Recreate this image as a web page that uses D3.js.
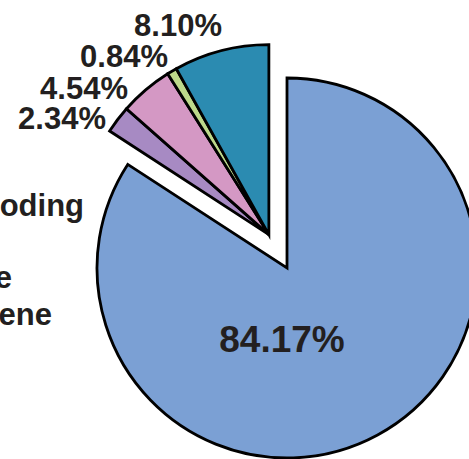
<!DOCTYPE html>
<html>
<head>
<meta charset="utf-8">
<script src="https://cdn.jsdelivr.net/npm/d3@7"></script>
<style>
  html, body { margin: 0; padding: 0; background: #fff; overflow: hidden; }
  svg { display: block; }
  text { font-family: "Liberation Sans", Arial, sans-serif; font-weight: bold; fill: #231f20; }
</style>
</head>
<body>
<svg id="chart" width="469" height="459"></svg>
<script>
// Share of each category (%), in drawing order clockwise from 12 o'clock
const categories = ["Protein coding", "Category B", "Category C", "Category D", "Category E"];
const shares = [84.17, 2.34, 4.54, 0.84, 8.10];
const shareLabels = ["84.17%", "2.34%", "4.54%", "0.84%", "8.10%"];
const legendLines = ["Protein coding", "Antisense", "Pseudogene"];
const colors = ["#7ba0d4", "#a78ac3", "#d498c4", "#bdd98b", "#2b8bb1"];

const svg = d3.select("#chart");
const cx = 287, cy = 268, radius = 190, explode = 38;

const pie = d3.pie().sort(null).value(d => d).startAngle(0).endAngle(2 * Math.PI);
const arcs = pie(shares);
const arc = d3.arc().innerRadius(0).outerRadius(radius);

// The small slices are pulled out together along the bisector of their combined span
const groupStart = arcs[1].startAngle, groupEnd = arcs[arcs.length - 1].endAngle;
const mid = (groupStart + groupEnd) / 2;
const dx = explode * Math.sin(mid), dy = -explode * Math.cos(mid);

const g = svg.append("g").attr("transform", `translate(${cx},${cy})`);

g.selectAll("path.slice")
  .data(arcs)
  .join("path")
  .attr("class", "slice")
  .attr("transform", (d, i) => i === 0 ? null : `translate(${dx},${dy})`)
  .attr("d", arc)
  .attr("fill", (d, i) => colors[i])
  .attr("stroke", "#000")
  .attr("stroke-width", 2.8)
  .attr("stroke-linejoin", "miter");

// Value label inside the main slice
svg.append("text")
  .attr("x", 282).attr("y", 352)
  .attr("text-anchor", "middle")
  .style("font-size", "37px")
  .text(shareLabels[0]);

// Stacked value labels for the exploded slices, top to bottom
const outerLabelPos = [[106, 129], [128, 99], [168, 67], [222, 36]];
svg.selectAll("text.outer")
  .data(shareLabels.slice(1))
  .join("text")
  .attr("class", "outer")
  .attr("x", (d, i) => outerLabelPos[i][0])
  .attr("y", (d, i) => outerLabelPos[i][1])
  .attr("text-anchor", "end")
  .style("font-size", "31px")
  .text(d => d);

// Category names at the left
const legendPos = [[84, 216], [12, 288], [52, 325]];
svg.selectAll("text.legend")
  .data(legendLines)
  .join("text")
  .attr("class", "legend")
  .attr("x", (d, i) => legendPos[i][0])
  .attr("y", (d, i) => legendPos[i][1])
  .attr("text-anchor", "end")
  .style("font-size", "31px")
  .text(d => d);
</script>
</body>
</html>
